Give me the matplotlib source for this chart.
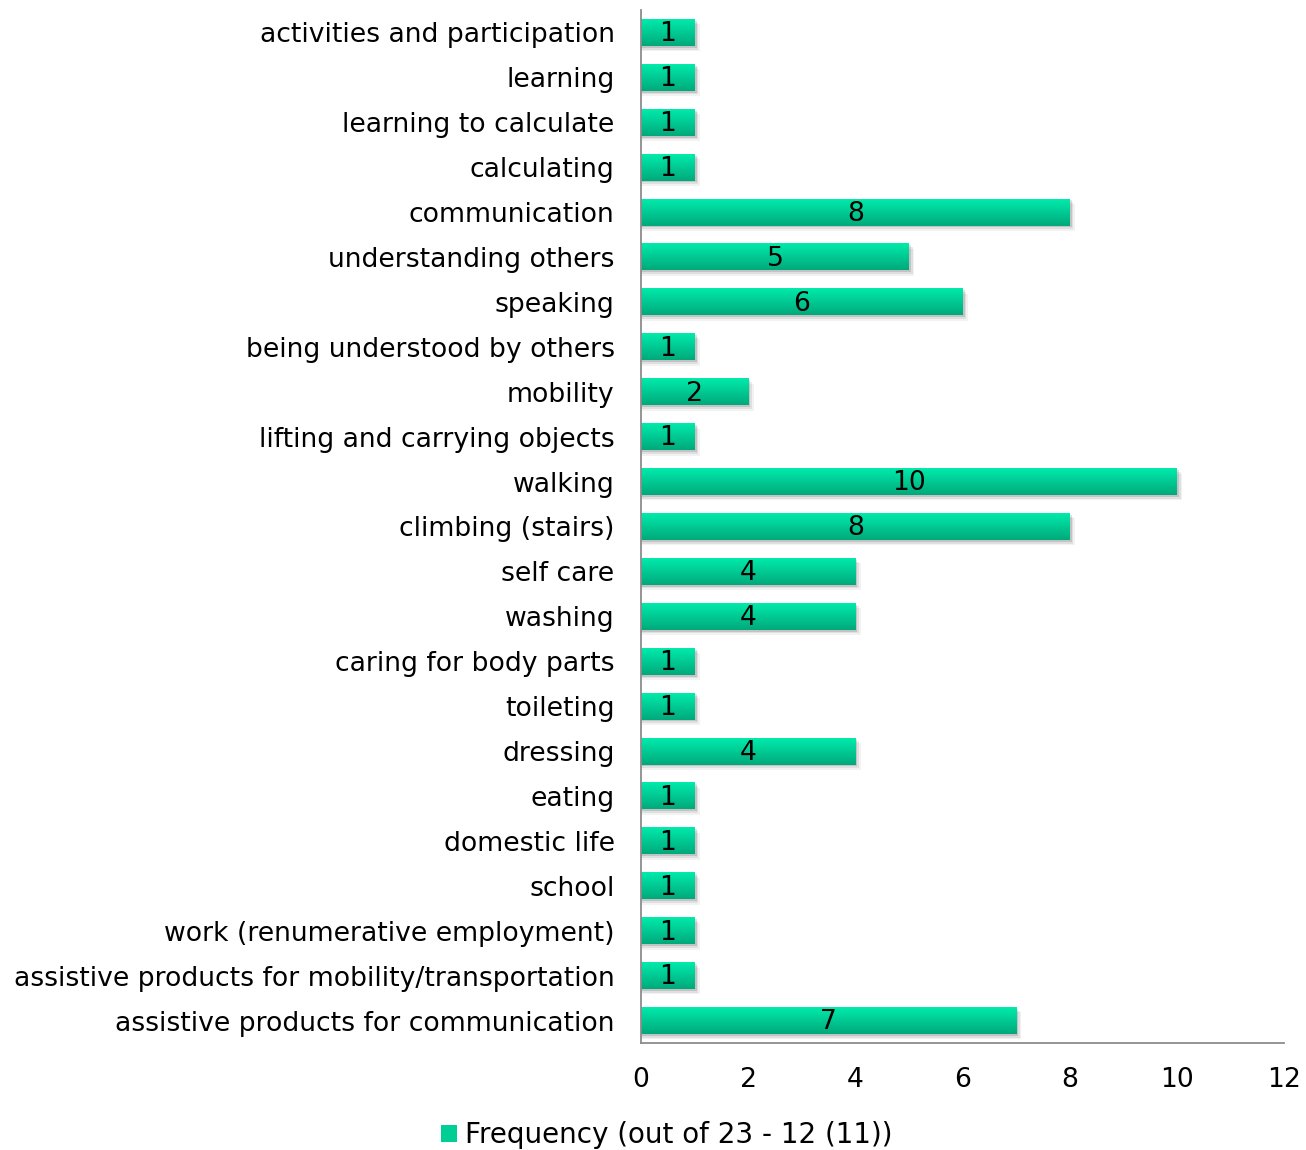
import numpy as np
import matplotlib
matplotlib.use("Agg")
import matplotlib.pyplot as plt
from matplotlib.patches import Patch
from matplotlib.colors import LinearSegmentedColormap

categories = [
    "activities and participation", "learning", "learning to calculate",
    "calculating", "communication", "understanding others", "speaking",
    "being understood by others", "mobility", "lifting and carrying objects",
    "walking", "climbing (stairs)", "self care", "washing",
    "caring for body parts", "toileting", "dressing", "eating",
    "domestic life", "school", "work (renumerative employment)",
    "assistive products for mobility/transportation",
    "assistive products for communication",
]
values = [1, 1, 1, 1, 8, 5, 6, 1, 2, 1, 10, 8, 4, 4, 1, 1, 4, 1, 1, 1, 1, 1, 7]
xticks = [0, 2, 4, 6, 8, 10, 12]
legend_label = "Frequency (out of 23 - 12 (11))"

plt.rcParams['font.family'] = ['DejaVu Sans']
fs = 19.2

fig = plt.figure(figsize=(13.06, 11.5), dpi=100)
ax = fig.add_axes([641 / 1306, 1 - 1043 / 1150, 643 / 1306, 1033 / 1150])

grad = LinearSegmentedColormap.from_list("g", ["#00ebab", "#00a97b"])
bar_h = 0.6
y = np.arange(len(categories))

for i, v in enumerate(values):
    # soft shadow
    for k, a in enumerate([0.12, 0.08, 0.05]):
        off = 0.04 + 0.04 * k
        ax.add_patch(plt.Rectangle((0, i - bar_h / 2 + off), v + 0.04 + 0.03 * k, bar_h,
                                   color="black", alpha=a, lw=0, zorder=1))
    ax.imshow(np.linspace(0, 1, 50).reshape(-1, 1), cmap=grad, aspect="auto",
              extent=(0, v, i + bar_h / 2, i - bar_h / 2), zorder=2,
              interpolation="bilinear")
    ax.text(v / 2, i + 0.04, str(v), ha="center", va="center", fontsize=fs,
            color="black", zorder=3)

ax.set_xlim(0, 12)
ax.set_ylim(len(categories) - 0.5, -0.5)
ax.set_yticks(y)
ax.set_yticklabels(categories, fontsize=fs)
for lbl in ax.get_yticklabels():
    lbl.set_va("center_baseline")
ax.set_xticks(xticks)
ax.set_xticklabels([str(t) for t in xticks], fontsize=fs)
ax.tick_params(axis="both", length=0)
ax.tick_params(axis="y", pad=19)
ax.tick_params(axis="x", pad=17)
for s in ["top", "right"]:
    ax.spines[s].set_visible(False)
for s in ["left", "bottom"]:
    ax.spines[s].set_color("#8c8c8c")
    ax.spines[s].set_linewidth(1.3)

fig.legend(handles=[Patch(facecolor="#00cf95", edgecolor="none", label=legend_label)],
           loc="center", bbox_to_anchor=(667 / 1306, 1 - 1135 / 1150), frameon=False,
           fontsize=20, handlelength=0.55, handleheight=0.55, handletextpad=0.3)

fig.savefig("out.png", dpi=100)
